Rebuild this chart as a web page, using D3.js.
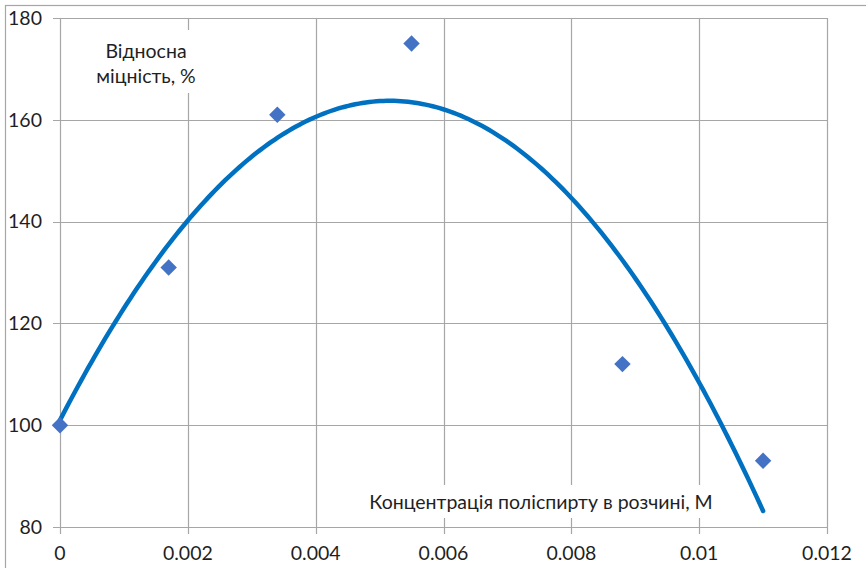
<!DOCTYPE html>
<html>
<head>
<meta charset="utf-8">
<script src="https://cdn.jsdelivr.net/npm/d3@7"></script>
<style>
  body { margin: 0; background: #fff; }
  svg { display: block; font-family: Lato, "Open Sans", sans-serif; }
</style>
</head>
<body>
<svg width="866" height="568"></svg>
<script>
// measured points
var concentration = [0, 0.0017, 0.0034, 0.0055, 0.0088, 0.011];
var strength = [100, 131, 161, 175, 112, 93];

var xTicks = [0, 0.002, 0.004, 0.006, 0.008, 0.01, 0.012];
var yTicks = [80, 100, 120, 140, 160, 180];

var yTitle = ["Відносна", "міцність, %"];
var xTitle = "Концентрація поліспирту в розчині, М";

var svg = d3.select("svg");

// outer chart border
svg.append("rect")
    .attr("x", 5.5).attr("y", 5.5)
    .attr("width", 880).attr("height", 600)
    .attr("fill", "#fff")
    .attr("stroke", "#a6a6a6")
    .attr("stroke-width", 1.2);

var x = d3.scaleLinear().domain([0, 0.012]).range([60, 827]);
var y = d3.scaleLinear().domain([80, 180]).range([527, 18]);

var grid = svg.append("g");
grid.selectAll(".vx")
    .data(xTicks)
    .enter()
    .append("line")
    .attr("x1", function (d) { return Math.round(x(d)) + 0.5; })
    .attr("x2", function (d) { return Math.round(x(d)) + 0.5; })
    .attr("y1", y(180))
    .attr("y2", y(80) + 7)
    .attr("stroke", "#a6a6a6")
    .attr("stroke-width", 1.2);
grid.selectAll(".hy")
    .data(yTicks)
    .enter()
    .append("line")
    .attr("x1", x(0) - 7)
    .attr("x2", x(0.012))
    .attr("y1", function (d) { return Math.round(y(d)) + 0.5; })
    .attr("y2", function (d) { return Math.round(y(d)) + 0.5; })
    .attr("stroke", "#a6a6a6")
    .attr("stroke-width", 1.2);

// tick labels
svg.append("g").selectAll("text")
    .data(yTicks)
    .enter()
    .append("text")
    .attr("x", 42)
    .attr("y", function (d) { return y(d); })
    .attr("dy", "0.35em")
    .attr("text-anchor", "end")
    .attr("font-size", 19.5)
    .attr("fill", "#1f1f1f")
    .text(function (d) { return d; });

svg.append("g").selectAll("text")
    .data(xTicks)
    .enter()
    .append("text")
    .attr("x", function (d) { return x(d); })
    .attr("y", 560)
    .attr("text-anchor", "middle")
    .attr("font-size", 19.5)
    .attr("fill", "#1f1f1f")
    .text(function (d) { return d === 0 ? "0" : String(d); });

// quadratic least-squares trendline from the points
function polyFit2(xs, ys) {
    var n = xs.length, s = [0, 0, 0, 0, 0], t = [0, 0, 0];
    for (var i = 0; i < n; i++) {
        var p = 1;
        for (var k = 0; k < 5; k++) {
            s[k] += p;
            if (k < 3) t[k] += p * ys[i];
            p *= xs[i];
        }
    }
    var m = [[s[0], s[1], s[2], t[0]], [s[1], s[2], s[3], t[1]], [s[2], s[3], s[4], t[2]]];
    for (var c = 0; c < 3; c++) {
        for (var r = c + 1; r < 3; r++) {
            var f = m[r][c] / m[c][c];
            for (var j = c; j < 4; j++) m[r][j] -= f * m[c][j];
        }
    }
    var coef = [0, 0, 0];
    for (var r2 = 2; r2 >= 0; r2--) {
        var v = m[r2][3];
        for (var j2 = r2 + 1; j2 < 3; j2++) v -= m[r2][j2] * coef[j2];
        coef[r2] = v / m[r2][r2];
    }
    return coef;
}
var coef = polyFit2(concentration, strength);
var trend = d3.range(0, 201).map(function (i) {
    var cx = 0.011 * i / 200;
    return [cx, coef[0] + coef[1] * cx + coef[2] * cx * cx];
});

var line = d3.line()
    .x(function (d) { return x(d[0]); })
    .y(function (d) { return y(d[1]); });

// text boxes sit above the grid
var yBox = svg.append("g");
yBox.append("rect")
    .attr("x", 93).attr("y", 30)
    .attr("width", 106).attr("height", 63)
    .attr("fill", "#fff");
yBox.selectAll("text")
    .data(yTitle)
    .enter()
    .append("text")
    .attr("x", 146)
    .attr("y", function (d, i) { return 58 + i * 25; })
    .attr("text-anchor", "middle")
    .attr("font-size", 19.5)
    .attr("fill", "#1f1f1f")
    .text(function (d) { return d; });

var xBox = svg.append("g");
xBox.append("rect")
    .attr("x", 360).attr("y", 485)
    .attr("width", 364).attr("height", 33)
    .attr("fill", "#fff");
xBox.append("text")
    .attr("x", 541)
    .attr("y", 509)
    .attr("text-anchor", "middle")
    .attr("font-size", 19.5)
    .attr("fill", "#1f1f1f")
    .text(xTitle);

svg.append("path")
    .datum(trend)
    .attr("d", line)
    .attr("fill", "none")
    .attr("stroke", "#0070c0")
    .attr("stroke-width", 4.5)
    .attr("stroke-linecap", "round");

svg.append("g").selectAll("path")
    .data(concentration)
    .enter()
    .append("path")
    .attr("d", d3.symbol().type(d3.symbolSquare).size(135))
    .attr("transform", function (d, i) {
        return "translate(" + x(d) + "," + y(strength[i]) + ") rotate(45)";
    })
    .attr("fill", "#4472c4");
</script>
</body>
</html>
